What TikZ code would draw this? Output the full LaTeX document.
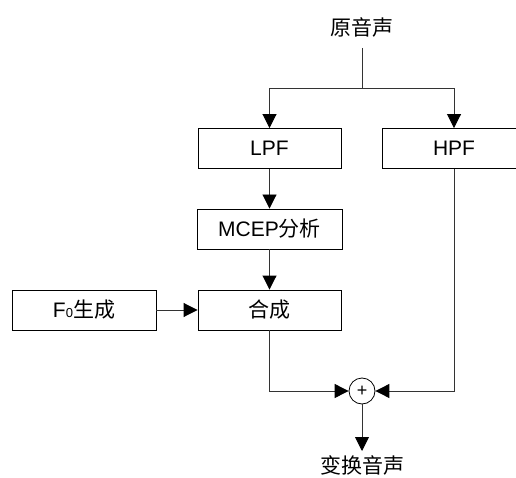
\documentclass[tikz,border=0pt]{standalone}
\usepackage{fontspec}
\setmainfont{Liberation Sans}
\newfontfamily\cjk{Noto Sans CJK SC}
\usetikzlibrary{arrows.meta}
\begin{document}
\begin{tikzpicture}[x=1pt,y=-1pt,
  blk/.style={draw=black,line width=0.9pt,minimum height=40pt,inner sep=0pt,font=\fontsize{21}{21}\selectfont},
  lbl/.style={inner sep=0pt,font=\fontsize{21}{21}\selectfont\cjk},
  wire/.style={draw=black!80,line width=0.9pt},
  arr/.style={wire,-{Triangle[width=14pt,length=14pt,fill=black,color=black]}}]
\useasboundingbox (0,0) rectangle (516,478);
\node[lbl] (src) at (362,27) {原音声};
\coordinate (j) at (362,88);
\node[blk,minimum width=143pt] (lpf) at (269.5,148.5) {LPF};
\node[blk,minimum width=144pt] (hpf) at (454,148.5) {HPF};
\node[blk,minimum width=145pt] (mcep) at (269.5,229) {MCEP{\cjk 分析}};
\node[blk,minimum width=143pt] (syn) at (269.5,310) {\cjk 合成};
\node[blk,minimum width=144pt] (f0) at (84,310) {F{\fontsize{13}{13}\selectfont 0}{\cjk 生成}};
\node[draw=black,line width=0.8pt,circle,minimum size=26pt,inner sep=0pt,font=\fontsize{18}{18}\selectfont] (add) at (362,391) {+};
\node[lbl] (out) at (362,465) {变换音声};
\coordinate (oe) at (362,451);
\draw[wire] (src.south |- 0,48) -- (j);
\draw[arr] (j) -| (lpf.north);
\draw[arr] (j) -| (hpf.north);
\draw[arr] (lpf) -- (mcep);
\draw[arr] (mcep) -- (syn);
\draw[arr] (f0) -- (syn);
\draw[arr] (syn.south) |- (add.west);
\draw[arr] (hpf.south) |- (add.east);
\draw[arr] (add.south) -- (oe);
\end{tikzpicture}
\end{document}
